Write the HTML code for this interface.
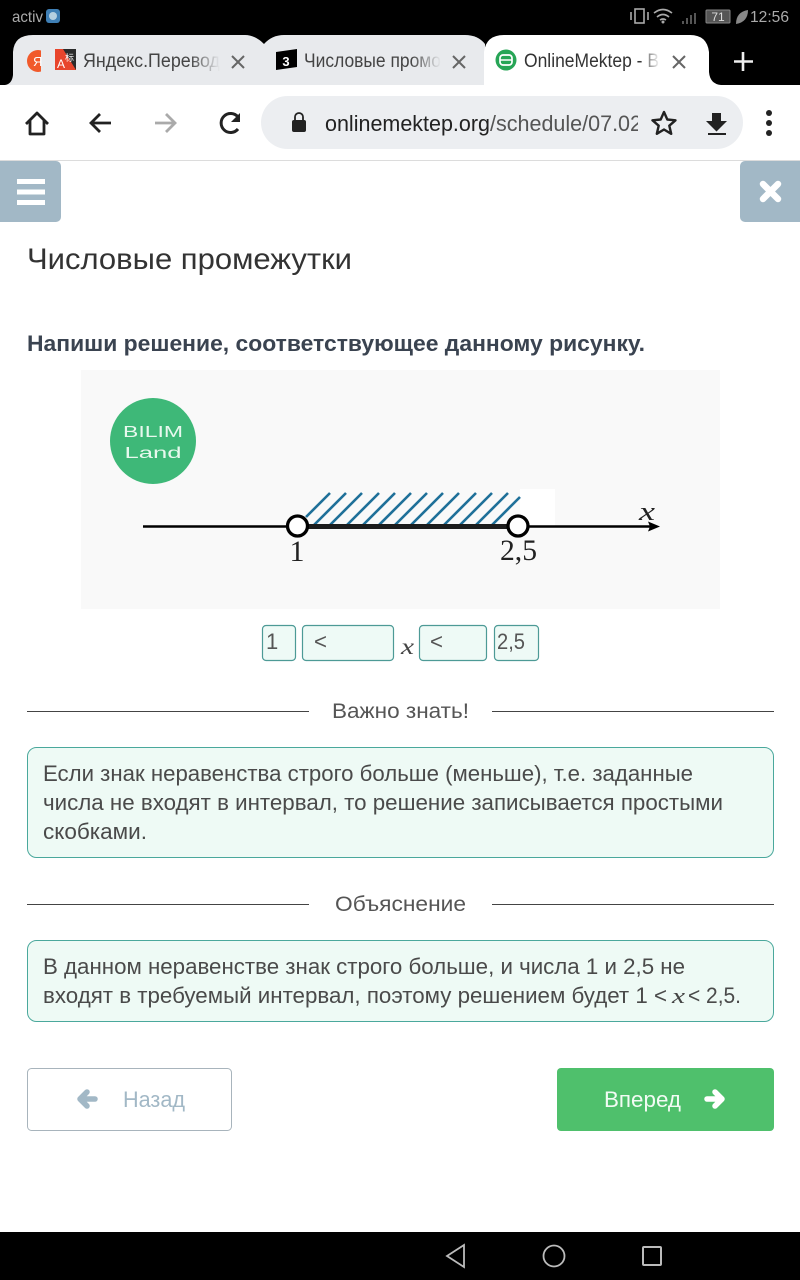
<!DOCTYPE html>
<html><head><meta charset="utf-8"><style>
html,body{margin:0;padding:0;background:#fff;width:800px;height:1280px;overflow:hidden}
svg{display:block}
text{font-family:"Liberation Sans","DejaVu Sans",sans-serif}
text.s{font-family:"Liberation Serif","DejaVu Serif",serif}
</style></head><body>
<svg width="800" height="1280" viewBox="0 0 800 1280" xmlns="http://www.w3.org/2000/svg">
<defs>
<linearGradient id="f1"><stop offset="0" stop-color="#e8eaed" stop-opacity="0"/><stop offset="1" stop-color="#e8eaed"/></linearGradient>
<linearGradient id="f2"><stop offset="0" stop-color="#fff" stop-opacity="0"/><stop offset="1" stop-color="#fff"/></linearGradient>
<clipPath id="u"><rect x="320" y="100" width="318" height="45"/></clipPath>
</defs>
<rect width="800" height="1280" fill="#fff"/>
<!-- status & tab strip -->
<rect width="800" height="85" fill="#000"/>
<text x="12" y="22" font-size="16" fill="#aaa" textLength="31" lengthAdjust="spacingAndGlyphs">activ</text>
<rect x="46" y="9" width="14" height="14" rx="3" fill="#3f7fb5"/><circle cx="53" cy="16" r="4" fill="#b5cfe0"/>
<g fill="none" stroke="#aaa" stroke-width="1.6">
<rect x="635" y="9" width="9" height="14"/><path d="M631 12v8M648 12v8"/>
<path d="M654 13q9-7 18 0M657 17q6-5 12 0M660 20q3-2 6 0"/>
</g>
<circle cx="663" cy="22" r="1.5" fill="#aaa"/>
<path d="M683 24v-3M687 24v-6M691 24v-9M695 24v-11" stroke="#555" stroke-width="2"/>
<rect x="706" y="10" width="24" height="13" rx="1" fill="#555" stroke="#888"/>
<text x="718" y="21" font-size="12" fill="#ddd" text-anchor="middle">71</text>
<path d="M736 24q0-12 12-14q0 12-12 14z" fill="#888"/>
<text x="750" y="22" font-size="16" fill="#aaa" textLength="39" lengthAdjust="spacingAndGlyphs">12:56</text>
<!-- tabs -->
<path d="M5 85q7-1 8-10V52q1-17 20-17H245q10 0 19 9L264 85z" fill="#e8eaed"/>
<path d="M264 44q8-9 20-9H465q13 0 20 9V85H264z" fill="#e8eaed"/>
<path d="M484 85V52q2-17 20-17H690q17 0 19 17V72q1 12 12 13z" fill="#fff"/>
<circle cx="38" cy="61" r="11" fill="#f15a2b"/><rect x="41" y="48" width="14" height="26" fill="#e8eaed"/>
<text x="33" y="66" font-size="13" fill="#fff">Я</text>
<rect x="55" y="49" width="21" height="21" fill="#2b2b2b"/><path d="M55 49h8l13 21H55z" fill="#e8452c"/>
<text x="57" y="68" font-size="12" fill="#fff">A</text><text x="65" y="61" font-size="9" fill="#fff">标</text>
<text x="83" y="67" font-size="19" fill="#444" textLength="137" lengthAdjust="spacingAndGlyphs">Яндекс.Перевод</text>
<rect x="190" y="45" width="30" height="30" fill="url(#f1)"/>
<path d="M232 56l12 12M244 56l-12 12" stroke="#666" stroke-width="2"/>
<path d="M276 52l21-3v18l-21 3z" fill="#000"/>
<text x="286" y="66" font-size="13" font-weight="bold" fill="#fff" text-anchor="middle">3</text>
<text x="304" y="67" font-size="19" fill="#444" textLength="137" lengthAdjust="spacingAndGlyphs">Числовые промо</text>
<rect x="411" y="45" width="30" height="30" fill="url(#f1)"/>
<path d="M453 56l12 12M465 56l-12 12" stroke="#666" stroke-width="2"/>
<circle cx="506" cy="60" r="10.500" fill="#27a556"/>
<rect x="500" y="55" width="12" height="10" rx="3" fill="none" stroke="#fff" stroke-width="1.700"/><path d="M500 60h12" stroke="#fff" stroke-width="1.500"/>
<text x="524" y="67" font-size="19" fill="#333" textLength="135" lengthAdjust="spacingAndGlyphs">OnlineMektep - B</text>
<rect x="640" y="45" width="20" height="30" fill="url(#f2)"/>
<path d="M673 56l12 12M685 56l-12 12" stroke="#666" stroke-width="2"/>
<path d="M743 52v19M734 61.500h19" stroke="#eee" stroke-width="2.600"/>
<!-- toolbar -->
<rect y="160" width="800" height="1" fill="#dcdcdc"/>
<path d="M26 124L37 113L48 124M30 120v14h14v-14" fill="none" stroke="#222" stroke-width="2.800" stroke-linejoin="round"/>
<path d="M111 123H91M100 114l-9 9l9 9" fill="none" stroke="#222" stroke-width="2.800"/>
<path d="M155 123h20M166 114l9 9l-9 9" fill="none" stroke="#aaa" stroke-width="2.800"/>
<path d="M238 129a9.500 9.500 0 1 1 0-12" fill="none" stroke="#222" stroke-width="3"/>
<path d="M240 113v9h-9z" fill="#222"/>
<rect x="261" y="96" width="482" height="53" rx="26.500" fill="#eceef1"/>
<rect x="292" y="120" width="14" height="12" rx="2" fill="#222"/>
<path d="M295 120v-3a4 4 0 0 1 8 0v3" fill="none" stroke="#222" stroke-width="1.800"/>
<text x="325" y="131" font-size="22" fill="#222" textLength="165" lengthAdjust="spacingAndGlyphs">onlinemektep.org</text>
<g clip-path="url(#u)"><text x="490" y="131" font-size="22" fill="#555" textLength="152" lengthAdjust="spacingAndGlyphs">/schedule/07.02</text></g>
<path d="M664 112l3.300 7.500l8.200.800l-6.200 5.400l1.900 8.100l-7.200-4.300l-7.200 4.300l1.900-8.100l-6.200-5.400l8.200-.800z" fill="none" stroke="#222" stroke-width="2.400" stroke-linejoin="round"/>
<path d="M712 113h9v8h6l-10.500 10.500L706 121h6z" fill="#222"/><rect x="708" y="133" width="18" height="2" fill="#222"/>
<circle cx="769" cy="113" r="3" fill="#222"/><circle cx="769" cy="123" r="3" fill="#222"/><circle cx="769" cy="133" r="3" fill="#222"/>
<!-- side buttons -->
<path d="M0 161H56a5 5 0 0 1 5 5V217a5 5 0 0 1-5 5H0z" fill="#a2b8c6"/>
<path d="M17 179h28v5H17zM17 189.500h28v5H17zM17 200h28v5H17z" fill="#fff"/>
<path d="M800 161H745a5 5 0 0 0-5 5V217a5 5 0 0 0 5 5H800z" fill="#a2b8c6"/>
<path d="M763 184l15 15M778 184l-15 15" stroke="#fff" stroke-width="6.500" stroke-linecap="round"/>
<!-- headings -->
<text x="27" y="269" font-size="30" fill="#333" textLength="325" lengthAdjust="spacingAndGlyphs">Числовые промежутки</text>
<text x="27" y="351" font-size="22" font-weight="bold" fill="#3a4350" textLength="618" lengthAdjust="spacingAndGlyphs">Напиши решение, соответствующее данному рисунку.</text>
<!-- figure -->
<rect x="81" y="370" width="639" height="239" fill="#f9f9f9"/>
<circle cx="153" cy="441" r="43" fill="#3eb878"/>
<text x="153" y="437" font-size="16" fill="#e8f8ee" text-anchor="middle" textLength="60" lengthAdjust="spacingAndGlyphs">BILIM</text>
<text x="153" y="458" font-size="16" fill="#e8f8ee" text-anchor="middle" textLength="57" lengthAdjust="spacingAndGlyphs">Land</text>
<rect x="520" y="489" width="35" height="37" fill="#fff"/>
<g stroke="#1f7099" stroke-width="2.600">
<path d="M330 493L306 517M346 493L313 526M362 493L329 526M379 493L346 526M395 493L362 526M411 493L378 526M427 493L394 526M443 493L410 526M459 493L426 526M476 493L443 526M492 493L459 526M508 493L475 526M520 497L491 526"/>
</g>
<path d="M143 526.500H650" stroke="#000" stroke-width="2.600"/>
<path d="M297 526.500H518" stroke="#1c1c1c" stroke-width="5"/>
<path d="M660 526.500l-12-5l2 5l-2 5z" fill="#000"/>
<circle cx="297.500" cy="526" r="10" fill="#fff" stroke="#000" stroke-width="3.300"/>
<circle cx="518" cy="526" r="10" fill="#fff" stroke="#000" stroke-width="3.300"/>
<text x="297" y="561" font-size="30" fill="#222" class="s" text-anchor="middle">1</text>
<text x="500" y="560" font-size="30" fill="#222" class="s" textLength="37" lengthAdjust="spacingAndGlyphs">2,5</text>
<text x="639" y="520" font-size="26" font-style="italic" fill="#222" class="s" textLength="16" lengthAdjust="spacingAndGlyphs">x</text>
<!-- answer boxes -->
<g fill="#eefaf6" stroke="#4d9a96" stroke-width="1.200">
<rect x="262.500" y="625.500" width="33" height="35" rx="3.500"/>
<rect x="302.500" y="625.500" width="91" height="35" rx="3.500"/>
<rect x="419.500" y="625.500" width="67" height="35" rx="3.500"/>
<rect x="494.500" y="625.500" width="44" height="35" rx="3.500"/>
</g>
<g font-size="22" fill="#555">
<text x="266" y="649">1</text>
<text x="314" y="649" textLength="13" lengthAdjust="spacingAndGlyphs">&lt;</text>
<text x="430" y="649" textLength="13" lengthAdjust="spacingAndGlyphs">&lt;</text>
<text x="497" y="649" textLength="28" lengthAdjust="spacingAndGlyphs">2,5</text>
</g>
<text x="401" y="654" font-size="23" font-style="italic" fill="#444" class="s" textLength="13" lengthAdjust="spacingAndGlyphs">x</text>
<!-- important -->
<path d="M27 711.500H309M492 711.500H774M27 904.500H309M492 904.500H774" stroke="#444" stroke-width="1"/>
<text x="332" y="718" font-size="21" fill="#555" textLength="137" lengthAdjust="spacingAndGlyphs">Важно знать!</text>
<rect x="27.500" y="747.500" width="746" height="110" rx="9" fill="#eefaf5" stroke="#4aa89c" stroke-width="1"/>
<g font-size="22" fill="#4a4a4a">
<text x="43" y="781" textLength="650" lengthAdjust="spacingAndGlyphs">Если знак неравенства строго больше (меньше), т.е. заданные</text>
<text x="43" y="810" textLength="680" lengthAdjust="spacingAndGlyphs">числа не входят в интервал, то решение записывается простыми</text>
<text x="43" y="839" textLength="104" lengthAdjust="spacingAndGlyphs">скобками.</text>
</g>
<text x="335" y="911" font-size="21" fill="#555" textLength="131" lengthAdjust="spacingAndGlyphs">Объяснение</text>
<rect x="27.500" y="940.500" width="746" height="81" rx="9" fill="#eefaf5" stroke="#4aa89c" stroke-width="1"/>
<g font-size="22" fill="#4a4a4a">
<text x="43" y="974" textLength="642" lengthAdjust="spacingAndGlyphs">В данном неравенстве знак строго больше, и числа 1 и 2,5 не</text>
<text x="43" y="1003" textLength="624" lengthAdjust="spacingAndGlyphs">входят в требуемый интервал, поэтому решением будет 1 &lt;</text>
<text x="688" y="1003" textLength="53" lengthAdjust="spacingAndGlyphs">&lt; 2,5.</text>
</g>
<text x="672" y="1003" font-size="22" font-style="italic" fill="#444" class="s" textLength="13" lengthAdjust="spacingAndGlyphs">x</text>
<!-- nav buttons -->
<rect x="27.500" y="1068.500" width="204" height="62" rx="4" fill="#fff" stroke="#a8b4bc" stroke-width="1"/>
<path d="M95 1099H80M87 1092L80 1099L87 1106" fill="none" stroke="#a2b8c6" stroke-width="5.500" stroke-linecap="round" stroke-linejoin="round"/>
<text x="123" y="1107" font-size="22" fill="#a2b8c6" textLength="62" lengthAdjust="spacingAndGlyphs">Назад</text>
<rect x="557" y="1068" width="217" height="63" rx="4" fill="#4fc06c"/>
<text x="604" y="1107" font-size="22" fill="#f2fbf4" textLength="77" lengthAdjust="spacingAndGlyphs">Вперед</text>
<path d="M707 1099H722M715 1092L722 1099L715 1106" fill="none" stroke="#fff" stroke-width="5.500" stroke-linecap="round" stroke-linejoin="round"/>
<!-- nav bar -->
<rect y="1232" width="800" height="48" fill="#000"/>
<path d="M464 1245L447 1256L464 1267z" fill="none" stroke="#bbb" stroke-width="1.800"/>
<circle cx="554" cy="1256" r="10.500" fill="none" stroke="#bbb" stroke-width="1.800"/>
<rect x="643" y="1247" width="18" height="18" rx="1" fill="none" stroke="#bbb" stroke-width="2"/>
</svg>
</body></html>
